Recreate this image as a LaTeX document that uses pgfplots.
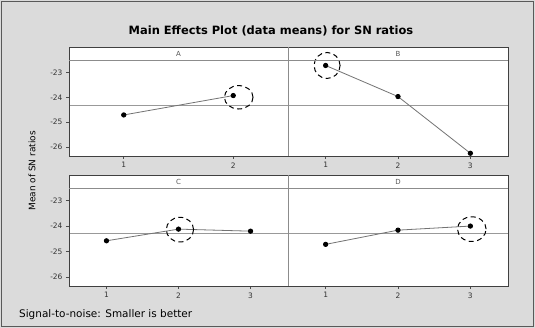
\documentclass[border=0pt]{standalone}
\usepackage{fontspec}
\setmainfont{DejaVu Sans}
\usepackage{pgfplots}
\pgfplotsset{compat=1.18}
\definecolor{bggray}{gray}{0.86}
\definecolor{lngray}{gray}{0.45}
\definecolor{refgray}{gray}{0.6}
\tikzset{ringopt/.style={black, line width=1bp, dash pattern=on 5bp off 3.5bp}}
\pgfplotsset{
  panel/.style={
    scale only axis, clip=false, width=219bp,
    ymin=-26.36, ymax=-22.5,
    axis line style={draw=none},
    tick pos=left, tick align=outside,
    major tick length=3bp,
    tick style={black!70, line width=0.6bp},
    ticklabel style={font=\fontsize{7.5}{9}\selectfont, text=black!80},
  },
  ypanel/.style={ytick={-26,-25,-24,-23}, yticklabels={-26,-25,-24,-23}},
  npanel/.style={ytick=\empty},
  twolev/.style={xmin=0.5, xmax=2.5, xtick={1,2}, xticklabels={1,2}},
  threelev/.style={xmin=0.48, xmax=3.52, xtick={1,2,3}, xticklabels={1,2,3}},
  dataline/.style={lngray, line width=0.8bp, mark=*, mark size=2.2bp, mark options={black, fill=black, solid}},
  refline/.style={refgray, line width=0.8bp, no marks},
  ring/.style={only marks, mark=o, mark size=13bp},
}
\begin{document}
\begin{tikzpicture}
\path[use as bounding box] (0,0) rectangle (535bp,328bp);
\fill[bggray] (0,0) rectangle (535bp,328bp);
\draw[black!65, line width=0.8bp] (1.5bp,1.5bp) rectangle (533.5bp,326.5bp);
\fill[white] (69bp,172bp) rectangle (508bp,281bp);
\fill[white] (69bp,42bp) rectangle (508bp,153bp);

% Panel A
\begin{axis}[panel, ypanel, twolev, at={(69bp,172bp)}, anchor=south west, height=96bp]
  \addplot[refline] coordinates {(0.5,-24.32) (2.5,-24.32)};
  \addplot[dataline] coordinates {(1,-24.71) (2,-23.93)};
  \addplot[ring, mark options={ringopt, xscale=1.1, yscale=0.9}] coordinates {(2.05,-24.0)};
\end{axis}
% Panel B
\begin{axis}[panel, npanel, threelev, at={(288bp,172bp)}, anchor=south west, width=220bp, height=96bp]
  \addplot[refline] coordinates {(0.48,-24.32) (3.52,-24.32)};
  \addplot[dataline] coordinates {(1,-22.72) (2,-23.97) (3,-26.25)};
  \addplot[ring, mark options={ringopt}] coordinates {(1.02,-22.72)};
\end{axis}
% Panel C
\begin{axis}[panel, ypanel, threelev, at={(69bp,42bp)}, anchor=south west, height=98bp]
  \addplot[refline] coordinates {(0.48,-24.30) (3.52,-24.30)};
  \addplot[dataline] coordinates {(1,-24.58) (2,-24.12) (3,-24.20)};
  \addplot[ring, mark options={ringopt, xscale=1.05, yscale=0.95}] coordinates {(2.02,-24.14)};
\end{axis}
% Panel D
\begin{axis}[panel, npanel, threelev, at={(288bp,42bp)}, anchor=south west, width=220bp, height=98bp]
  \addplot[refline] coordinates {(0.48,-24.30) (3.52,-24.30)};
  \addplot[dataline] coordinates {(1,-24.72) (2,-24.16) (3,-24.00)};
  \addplot[ring, mark options={ringopt, xscale=1.1, yscale=0.95}] coordinates {(3.02,-24.12)};
\end{axis}

% frames, strips, dividers
\draw[black!75, line width=0.8bp] (69bp,172bp) rectangle (508bp,281bp);
\draw[black!45, line width=0.8bp] (69bp,268bp) -- (508bp,268bp);
\draw[black!45, line width=0.8bp] (288bp,172bp) -- (288bp,281bp);
\draw[black!75, line width=0.8bp] (69bp,42bp) rectangle (508bp,153bp);
\draw[black!45, line width=0.8bp] (69bp,140bp) -- (508bp,140bp);
\draw[black!45, line width=0.8bp] (288bp,42bp) -- (288bp,153bp);

\node[font=\fontsize{7}{8}\selectfont, text=black!65] at (178.5bp,274.5bp) {A};
\node[font=\fontsize{7}{8}\selectfont, text=black!65] at (398bp,274.5bp) {B};
\node[font=\fontsize{7}{8}\selectfont, text=black!65] at (178.5bp,146.5bp) {C};
\node[font=\fontsize{7}{8}\selectfont, text=black!65] at (398bp,146.5bp) {D};

\node[font=\bfseries\fontsize{11.5}{14}\selectfont] at (271bp,297bp) {Main Effects Plot (data means) for SN ratios};
\node[font=\fontsize{9}{10}\selectfont, rotate=90] at (32bp,157bp) {Mean of SN ratios};
\node[font=\fontsize{10.5}{11}\selectfont, anchor=west, inner sep=0pt] at (19bp,13.5bp) {Signal-to-noise: Smaller is better};
\end{tikzpicture}
\end{document}
